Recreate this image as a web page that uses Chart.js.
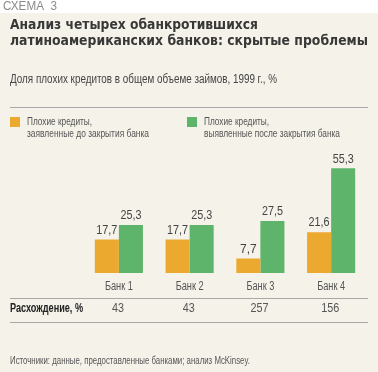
<!DOCTYPE html>
<html>
<head>
<meta charset="utf-8">
<script src="https://cdn.jsdelivr.net/npm/chart.js@4.4.1/dist/chart.umd.min.js"></script>
<style>
  html, body { margin: 0; padding: 0; background: #fff; }
  #wrap { position: relative; width: 378px; height: 372px; }
</style>
</head>
<body>
<div id="wrap"><canvas id="chart" width="378" height="372"></canvas></div>
<script>
// Chart data
const banks = ['Банк 1', 'Банк 2', 'Банк 3', 'Банк 4'];
const beforeClosing = [17.7, 17.7, 7.7, 21.6];
const afterClosing = [25.3, 25.3, 27.5, 55.3];
const divergence = [43, 43, 257, 156];

const ORANGE = '#eca92f';
const GREEN = '#5fb46c';
const SANS = '"Liberation Sans", Arial, sans-serif';

function fmt(v) {
  return String(v).replace('.', ',');
}

// Draws background, headings, legend, category labels and the divergence row
const decorPlugin = {
  id: 'decor',
  beforeDraw(chart) {
    const ctx = chart.ctx;
    ctx.save();
    ctx.fillStyle = '#ffffff';
    ctx.fillRect(0, 0, 378, 372);
    ctx.fillStyle = '#f5f2ea';
    ctx.fillRect(0, 13, 378, 359);
    ctx.restore();
  },
  afterDraw(chart) {
    const ctx = chart.ctx;
    const x = chart.scales.x;
    ctx.save();
    ctx.textBaseline = 'middle';

    ctx.fillStyle = '#8a8a8a';
    ctx.font = '12px ' + SANS;
    ctx.fillText('СХЕМА  3', 3, 7, 54);

    ctx.fillStyle = '#383838';
    ctx.font = 'bold 14px "DejaVu Sans", sans-serif';
    ctx.fillText('Анализ четырех обанкротившихся', 10, 25, 248);
    ctx.fillText('латиноамериканских банков: скрытые проблемы', 10, 41, 358);

    ctx.fillStyle = '#444';
    ctx.font = '12px ' + SANS;
    ctx.fillText('Доля плохих кредитов в общем объеме займов, 1999 г., %', 10, 80, 267);

    ctx.strokeStyle = '#a8a8a8';
    ctx.lineWidth = 1;
    [107.5, 298.5, 322.5].forEach(y => {
      ctx.beginPath();
      ctx.moveTo(10, y);
      ctx.lineTo(368, y);
      ctx.stroke();
    });

    // legend
    ctx.fillStyle = ORANGE;
    ctx.fillRect(10, 117, 10, 10);
    ctx.fillStyle = GREEN;
    ctx.fillRect(187, 117, 10, 10);
    ctx.fillStyle = '#555';
    ctx.font = '11px ' + SANS;
    ctx.fillText('Плохие кредиты,', 27, 122, 65);
    ctx.fillText('заявленные до закрытия банка', 27, 134, 122);
    ctx.fillText('Плохие кредиты,', 204, 122, 65);
    ctx.fillText('выявленные после закрытия банка', 204, 134, 136);

    // category labels and divergence row
    ctx.fillStyle = '#222';
    ctx.font = 'bold 12px ' + SANS;
    ctx.fillText('Расхождение, %', 10, 309, 73);
    ctx.textAlign = 'center';
    ctx.fillStyle = '#555';
    ctx.font = '12px ' + SANS;
    banks.forEach((b, i) => {
      ctx.fillText(b, x.getPixelForValue(i), 287, 28);
    });
    divergence.forEach((d, i) => {
      ctx.fillText(String(d), x.getPixelForValue(i) - 1, 309, String(d).length * 6);
    });

    ctx.textAlign = 'left';
    ctx.font = '10px ' + SANS;
    ctx.fillStyle = '#555';
    ctx.fillText('Источники: данные, предоставленные банками; анализ McKinsey.', 10, 361, 240);

    // value labels above bars
    ctx.font = '12px ' + SANS;
    ctx.fillStyle = '#444';
    ctx.textAlign = 'center';
    chart.data.datasets.forEach((ds, di) => {
      chart.getDatasetMeta(di).data.forEach((bar, i) => {
        ctx.fillText(fmt(ds.data[i]), bar.x, bar.y - 9, 21);
      });
    });
    ctx.restore();
  }
};

new Chart(document.getElementById('chart'), {
  type: 'bar',
  data: {
    labels: banks,
    datasets: [
      { label: 'Плохие кредиты, заявленные до закрытия банка', data: beforeClosing, backgroundColor: ORANGE },
      { label: 'Плохие кредиты, выявленные после закрытия банка', data: afterClosing, backgroundColor: GREEN }
    ]
  },
  options: {
    responsive: false,
    animation: false,
    devicePixelRatio: 1,
    layout: { padding: { left: 83.5, right: 11.5, top: 150, bottom: 99 } },
    plugins: {
      legend: { display: false },
      tooltip: { enabled: false }
    },
    datasets: {
      bar: { categoryPercentage: 0.68, barPercentage: 1.0 }
    },
    scales: {
      x: { display: false },
      y: { display: false, min: 0, max: 65 }
    }
  },
  plugins: [decorPlugin]
});
</script>
</body>
</html>
